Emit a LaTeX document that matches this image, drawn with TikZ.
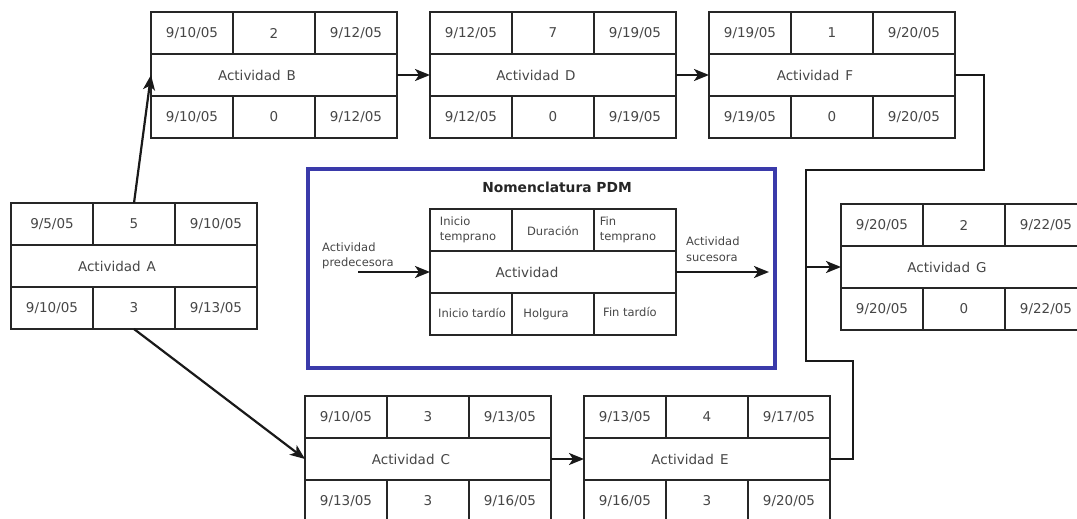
\documentclass[tikz,border=0pt]{standalone}
\usepackage{fontspec}
\setmainfont{DejaVu Sans}
\usetikzlibrary{arrows.meta,calc}

\definecolor{legendblue}{RGB}{58,58,170}
\definecolor{inkgray}{RGB}{70,70,70}

\tikzset{
  pdmframe/.style={draw=black!85,line width=2.6pt,minimum width=246pt,
    minimum height=126pt,anchor=north west,inner sep=0pt,outer sep=0pt},
  cellrule/.style={draw=black!85,line width=2.6pt},
  pdmcell/.style={font=\fontsize{13.5}{15}\selectfont,text=inkgray,inner sep=0pt},
  smallcell/.style={font=\fontsize{11.5}{15.5}\selectfont,text=inkgray,
    inner sep=0pt,align=left},
  link/.style={draw=black!90,line width=2.2pt,
    -{Stealth[length=15pt,width=12pt,inset=4pt]}},
  wire/.style={draw=black!90,line width=2.2pt},
  legendframe/.style={draw=legendblue,line width=3.5pt,anchor=north west,
    minimum width=467pt,minimum height=199pt,inner sep=0pt},
}

% empty activity frame: three rows, top and bottom rows split in three
\newcommand\pdmframe[2]{%
  \node[pdmframe] (#1) at (#2) {};
  \draw[cellrule] ($(#1.north west)+(0,42)$) -- ($(#1.north east)+(0,42)$);
  \draw[cellrule] ($(#1.north west)+(0,84)$) -- ($(#1.north east)+(0,84)$);
  \draw[cellrule] ($(#1.north west)+(82,0)$) -- ++(0,42);
  \draw[cellrule] ($(#1.north west)+(164,0)$) -- ++(0,42);
  \draw[cellrule] ($(#1.north west)+(82,84)$) -- ++(0,42);
  \draw[cellrule] ($(#1.north west)+(164,84)$) -- ++(0,42);
}

% activity with early start, duration, early finish, name, late start, slack, late finish
\newcommand\pdmbox[9]{%
  \pdmframe{#1}{#2}
  \node[pdmcell] (#1-es) at ($(#1.north west)+(41,21)$)  {#3};
  \node[pdmcell] (#1-d)  at ($(#1.north west)+(123,21)$) {#4};
  \node[pdmcell] (#1-ef) at ($(#1.north west)+(205,21)$) {#5};
  \node[pdmcell] (#1-n)  at ($(#1.north west)+(106,63)$) {#6};
  \node[pdmcell] (#1-ls) at ($(#1.north west)+(41,105)$) {#7};
  \node[pdmcell] (#1-h)  at ($(#1.north west)+(123,105)$) {#8};
  \node[pdmcell] (#1-lf) at ($(#1.north west)+(205,105)$) {#9};
}

\begin{document}
\begin{tikzpicture}[x=1pt,y=-1pt]
  \useasboundingbox (0,0) rectangle (1077,519);
  \fill[white] (0,0) rectangle (1077,519);

  % activities
  \pdmbox{A}{11,203}{9/5/05}{5}{9/10/05}{Actividad\hspace{0.45em}A}{9/10/05}{3}{9/13/05}
  \pdmbox{B}{151,12}{9/10/05}{2}{9/12/05}{Actividad\hspace{0.45em}B}{9/10/05}{0}{9/12/05}
  \pdmbox{D}{430,12}{9/12/05}{7}{9/19/05}{Actividad\hspace{0.45em}D}{9/12/05}{0}{9/19/05}
  \pdmbox{F}{709,12}{9/19/05}{1}{9/20/05}{Actividad\hspace{0.45em}F}{9/19/05}{0}{9/20/05}
  \pdmbox{G}{841,204}{9/20/05}{2}{9/22/05}{Actividad\hspace{0.45em}G}{9/20/05}{0}{9/22/05}
  \pdmbox{C}{305,396}{9/10/05}{3}{9/13/05}{Actividad\hspace{0.45em}C}{9/13/05}{3}{9/16/05}
  \pdmbox{E}{584,396}{9/13/05}{4}{9/17/05}{Actividad\hspace{0.45em}E}{9/16/05}{3}{9/20/05}

  % legend
  \node[legendframe] (legend) at (306,167) {};
  \node[font=\bfseries\fontsize{13.8}{15}\selectfont,text=black!85] (legend-title)
    at (557,187) {Nomenclatura PDM};
  \pdmframe{key}{430,209}
  \node[smallcell] (key-es) at (468,230) {Inicio\\temprano};
  \node[smallcell] (key-d)  at (553,231) {Duración};
  \node[smallcell] (key-ef) at (628,230) {Fin\\temprano};
  \node[pdmcell]   (key-n)  at (527,272) {Actividad};
  \node[smallcell] (key-ls) at (472,313) {Inicio tardío};
  \node[smallcell] (key-h)  at (546,314) {Holgura};
  \node[smallcell] (key-lf) at (630,312) {Fin tardío};
  \coordinate (pred-in) at (358,272);
  \draw[link] (pred-in) -- (key.west);
  \node[smallcell,anchor=west] (pred-label) at (322,256) {Actividad\\predecesora};
  \coordinate (succ-out) at (769,272);
  \draw[link] (key.east) -- (succ-out);
  \node[smallcell,anchor=west] (succ-label) at (686,249) {Actividad\\sucesora};

  % dependencies
  \draw[link] (A.north) -- (B.west);
  \draw[link] (A.south) -- (C.west);
  \draw[link] (B.east) -- (D.west);
  \draw[link] (D.east) -- (F.west);
  \draw[link] (C.east) -- (E.west);

  \coordinate (bendF) at (984,170);
  \coordinate (bendE) at (853,361);
  \coordinate (trunkTop) at (806,170);
  \coordinate (trunkBot) at (806,361);
  \draw[wire] (F.east) -| (bendF) -- (trunkTop) -- (trunkBot) -- (bendE) |- (E.east);
  \draw[link] (trunkTop |- G.west) -- (G.west);
\end{tikzpicture}
\end{document}
